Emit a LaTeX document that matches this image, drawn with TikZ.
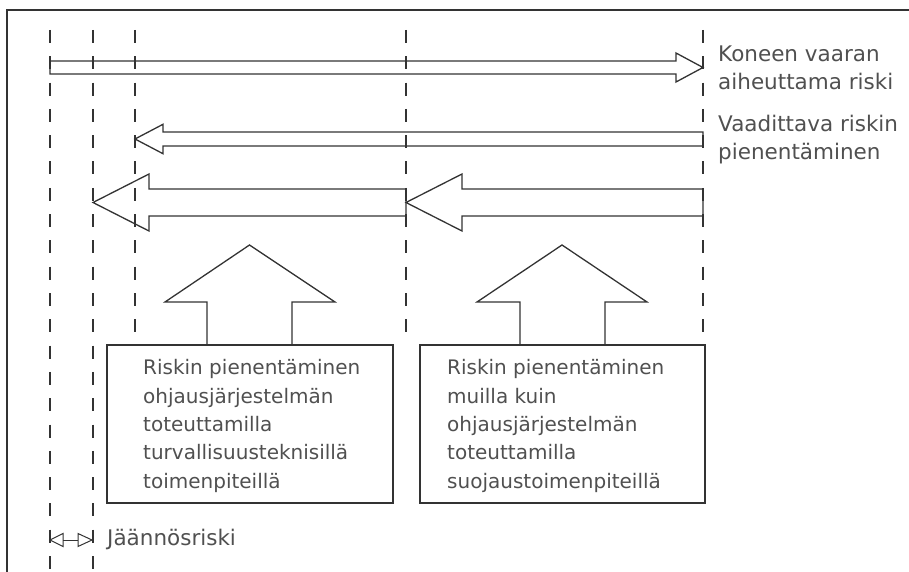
\documentclass[tikz,border=0pt]{standalone}
\usepackage{fontspec}
\setmainfont{DejaVu Sans}
\definecolor{linecol}{HTML}{333333}
\definecolor{txtcol}{HTML}{505050}
\begin{document}
\begin{tikzpicture}[x=1pt,y=-1pt,
  ln/.style={draw=linecol, line width=1.3pt, line join=miter},
  guide/.style={draw=linecol, line width=1.4pt, dash pattern=on 13pt off 13.3pt},
  lbl/.style={text=txtcol, inner sep=0pt, anchor=base west, align=left,
    font=\fontsize{21.5}{28}\selectfont},
  boxtxt/.style={text=txtcol, inner sep=0pt, anchor=base west, align=left,
    font=\fontsize{20}{28.3}\selectfont},
  panel/.style={ln, rectangle, inner sep=0pt, minimum width=286pt, minimum height=158pt}
]
\useasboundingbox (0,0) rectangle (909,572);
\clip (0,0) rectangle (909,572);

% sheet border (only top and left edges fall on the sheet)
\draw[ln] (7,10) rectangle (960,620);

% vertical guide lines
\draw[guide] (50,30) -- (50,572);
\draw[guide] (93,30) -- (93,572);
\draw[guide] (135,30) -- (135,332);
\draw[guide] (406,30) -- (406,332);
\draw[guide] (703,30) -- (703,332);

% risk caused by the machine
\draw[ln] (50,61) -- (676,61) -- (676,53) -- (703,67.5) -- (676,82) -- (676,74) -- (50,74) -- cycle;
% required risk reduction
\draw[ln] (703,132) -- (163,132) -- (163,124.3) -- (135,139) -- (163,153.7) -- (163,146) -- (703,146) -- cycle;
% reduction by control system measures
\draw[ln] (406,189) -- (149,189) -- (149,174) -- (93,202.5) -- (149,231) -- (149,216) -- (406,216) -- cycle;
% reduction by other protective measures
\draw[ln] (703,189) -- (462,189) -- (462,174) -- (406,202.5) -- (462,231) -- (462,216) -- (703,216) -- cycle;

% boxes
\node[panel] (b1) at (250,424) {};
\node[panel, minimum width=285pt] (b2) at (562.5,424) {};

% upward block arrows standing on the boxes
\draw[ln] (207,345) -- (207,302) -- (165,302) -- (249.5,245) -- (335,302) -- (292,302) -- (292,345);
\draw[ln] (520,345) -- (520,302) -- (477,302) -- (562,245) -- (647,302) -- (605,302) -- (605,345);

% residual risk
\draw[ln, line width=1pt] (63,540) -- (78,540);
\draw[ln, line width=1pt] (50,540) -- (63,533.5) -- (63,546.5) -- cycle;
\draw[ln, line width=1pt] (92,540) -- (78,533.5) -- (78,546.5) -- cycle;

% texts (anchored at the baseline of their last line)
\node[lbl] (t1) at (718,90) {Koneen vaaran\\aiheuttama riski};
\node[lbl] (t2) at (718,160) {Vaadittava riskin\\pienentäminen};
\node[boxtxt] (t3) at (143,488) {Riskin pienentäminen\\ohjausjärjestelmän\\toteuttamilla\\turvallisuusteknisillä\\toimenpiteillä};
\node[boxtxt] (t4) at (447,488) {Riskin pienentäminen\\muilla kuin\\ohjausjärjestelmän\\toteuttamilla\\suojaustoimenpiteillä};
\node[lbl] (t5) at (107,545) {Jäännösriski};
\end{tikzpicture}
\end{document}
